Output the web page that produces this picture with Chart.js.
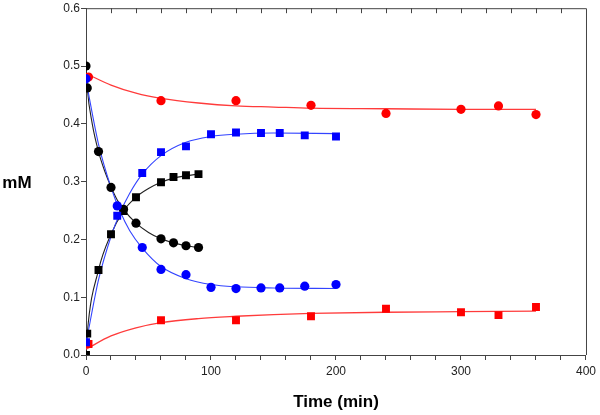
<!DOCTYPE html>
<html>
<head>
<meta charset="utf-8">
<script src="https://cdn.jsdelivr.net/npm/chart.js@4"></script>
<style>
  html, body { margin: 0; padding: 0; background: #fff; }
  #wrap { width: 600px; height: 415px; }
</style>
</head>
<body>
<div id="wrap"><canvas id="myChart"></canvas></div>
<script>
// measured points
const blkCircT = [0, 1, 10, 20, 30, 40, 60, 70, 80, 90];
const blkCircY = [0.500, 0.462, 0.352, 0.290, 0.252, 0.228, 0.201, 0.194, 0.189, 0.186];
const blkSqT = [0, 1, 10, 20, 30, 40, 60, 70, 80, 90];
const blkSqY = [0.000, 0.037, 0.147, 0.209, 0.249, 0.273, 0.299, 0.308, 0.311, 0.313];
const bluT = [0, 25, 45, 60, 80, 100, 120, 140, 155, 175, 200];
const bluCircY = [0.478, 0.258, 0.186, 0.148, 0.139, 0.117, 0.115, 0.116, 0.116, 0.119, 0.122];
const bluSqY = [0.022, 0.241, 0.315, 0.351, 0.361, 0.382, 0.385, 0.384, 0.384, 0.380, 0.378];
const redT = [2, 60, 120, 180, 240, 300, 330, 360];
const redCircY = [0.481, 0.440, 0.440, 0.432, 0.418, 0.425, 0.431, 0.416];
const redSqY = [0.019, 0.060, 0.060, 0.067, 0.080, 0.074, 0.069, 0.083];

// fitted curves
const blkCircFitT = [0, 1, 5, 10, 15, 20, 25, 30, 40, 50, 60, 70, 80, 90];
const blkCircFitY = [0.500, 0.462, 0.400, 0.352, 0.318, 0.291, 0.268, 0.252, 0.228, 0.212, 0.201, 0.194, 0.189, 0.186];
const blkSqFitT = [0, 1, 10, 20, 30, 40, 50, 60, 70, 80, 90];
const blkSqFitY = [0.000, 0.037, 0.147, 0.209, 0.249, 0.273, 0.288, 0.299, 0.306, 0.310, 0.313];
const bluFitT = [0, 10, 20, 27, 35, 45, 60, 80, 100, 120, 150, 200];
const bluCircFitY = [0.475, 0.365, 0.290, 0.250, 0.215, 0.185, 0.153, 0.132, 0.122, 0.118, 0.116, 0.115];
const bluSqFitY = [0.020, 0.130, 0.205, 0.245, 0.280, 0.313, 0.345, 0.368, 0.378, 0.382, 0.384, 0.383];
const redFitT = [0, 20, 40, 60, 90, 120, 150, 180, 240, 300, 360];
const redCircFitY = [0.487, 0.467, 0.453, 0.444, 0.436, 0.431, 0.429, 0.427, 0.426, 0.425, 0.425];
const redSqFitY = [0.010, 0.033, 0.047, 0.056, 0.063, 0.067, 0.070, 0.072, 0.074, 0.075, 0.076];

const xTicks = [0, 100, 200, 300, 400];
const yTicks = [0.0, 0.1, 0.2, 0.3, 0.4, 0.5, 0.6];

function pts(t, y) {
    return t.map((v, i) => ({ x: v, y: y[i] }));
}

function fitSet(t, y, color, width) {
    return {
        data: pts(t, y),
        borderColor: color,
        borderWidth: width,
        pointRadius: 0,
        cubicInterpolationMode: 'monotone',
        fill: false,
        order: 2
    };
}

function markSet(t, y, color, style, r) {
    return {
        data: pts(t, y),
        showLine: false,
        pointStyle: style,
        pointRadius: r,
        backgroundColor: color,
        borderColor: color,
        borderWidth: 0,
        order: 1
    };
}

const axisColor = '#444';

const framePlugin = {
    id: 'frame',
    afterDraw(chart) {
        const ctx = chart.ctx;
        const a = chart.chartArea;
        const xs = chart.scales.x;
        ctx.save();
        ctx.strokeStyle = axisColor;
        ctx.lineWidth = 1;
        ctx.beginPath();
        ctx.moveTo(a.left, a.top + 0.5);
        ctx.lineTo(a.right + 0.5, a.top + 0.5);
        ctx.lineTo(a.right + 0.5, a.bottom);
        // top ticks pointing inward
        for (let v = 20; v < 400; v += 20) {
            const px = Math.round(xs.getPixelForValue(v)) + 0.5;
            ctx.moveTo(px, a.top);
            ctx.lineTo(px, a.top + 5);
        }
        ctx.stroke();
        // horizontal y title
        ctx.fillStyle = '#000';
        ctx.font = 'bold 17px "Liberation Sans", Arial, sans-serif';
        ctx.textAlign = 'center';
        ctx.textBaseline = 'middle';
        ctx.fillText('mM', 17, 183);
        ctx.restore();
    }
};

const config = {
    type: 'line',
    data: {
        datasets: [
            fitSet(redFitT, redCircFitY, '#ff3b3b', 1.3),
            fitSet(redFitT, redSqFitY, '#ff3b3b', 1.3),
            fitSet(bluFitT, bluCircFitY, '#3344ff', 1.1),
            fitSet(bluFitT, bluSqFitY, '#3344ff', 1.1),
            fitSet(blkCircFitT, blkCircFitY, '#222', 1.1),
            fitSet(blkSqFitT, blkSqFitY, '#222', 1.1),
            markSet(bluT, bluCircY, '#0000ff', 'circle', 4.6),
            markSet(bluT, bluSqY, '#0000ff', 'rect', 5.6),
            markSet(redT, redCircY, '#ff0000', 'circle', 4.6),
            markSet(redT, redSqY, '#ff0000', 'rect', 5.6),
            markSet(blkCircT, blkCircY, '#000000', 'circle', 4.6),
            markSet(blkSqT, blkSqY, '#000000', 'rect', 5.6)
        ]
    },
    options: {
        responsive: true,
        maintainAspectRatio: false,
        animation: false,
        layout: { padding: { left: 0, top: 6, right: 13, bottom: 0 } },
        plugins: {
            legend: { display: false },
            tooltip: { enabled: false }
        },
        scales: {
            x: {
                type: 'linear',
                min: 0,
                max: 400,
                afterFit(scale) { scale.height = 60; },
                border: { color: axisColor, width: 1 },
                grid: { drawOnChartArea: false, drawTicks: true, tickLength: 5, color: axisColor },
                ticks: {
                    stepSize: 20,
                    padding: 4,
                    color: '#222',
                    font: { family: '"Liberation Sans", Arial, sans-serif', size: 12 },
                    maxRotation: 0,
                    autoSkip: false,
                    callback: (v) => xTicks.includes(v) ? String(v) : ''
                },
                title: {
                    display: true,
                    text: 'Time (min)',
                    color: '#000',
                    font: { family: '"Liberation Sans", Arial, sans-serif', size: 17, weight: 'bold' },
                    padding: { top: 0, bottom: 2 }
                }
            },
            y: {
                type: 'linear',
                min: 0,
                max: 0.6,
                afterFit(scale) { scale.width = 86; },
                border: { color: axisColor, width: 1 },
                grid: { drawOnChartArea: false, drawTicks: true, tickLength: 5, color: axisColor },
                ticks: {
                    stepSize: 0.1,
                    padding: 1,
                    color: '#222',
                    font: { family: '"Liberation Sans", Arial, sans-serif', size: 12 },
                    callback: (v) => {
                        const r = Math.round(v * 10) / 10;
                        return yTicks.includes(r) ? r.toFixed(1) : '';
                    }
                }
            }
        }
    },
    plugins: [framePlugin]
};

new Chart(document.getElementById('myChart'), config);
</script>
</body>
</html>
